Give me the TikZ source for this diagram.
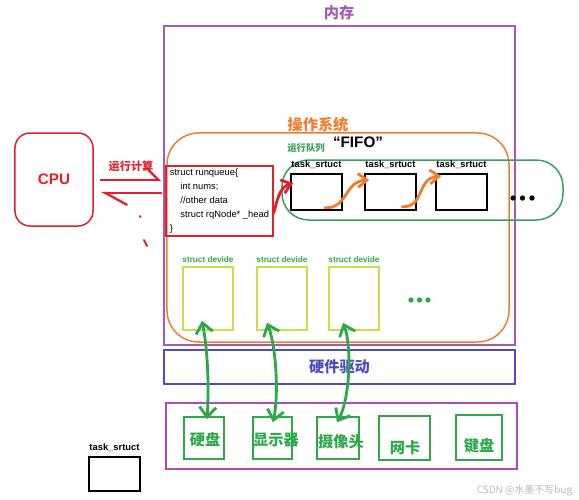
\documentclass[tikz,border=0pt]{standalone}
\usepackage{fontspec}
\setmainfont{Liberation Sans}
\newfontfamily\cjk{Noto Sans CJK SC}
\usetikzlibrary{arrows.meta, calc}

\definecolor{mempurple}{HTML}{A45BB5}
\definecolor{osorange}{HTML}{F07C30}
\definecolor{hwblue}{HTML}{4C4CC4}
\definecolor{devmagenta}{HTML}{B04AB8}
\definecolor{dgreen}{HTML}{2FA84A}
\definecolor{qgreen}{HTML}{3A9E5C}
\definecolor{ygreen}{HTML}{C4E04A}
\definecolor{myred}{HTML}{E0202C}

\begin{document}
\begin{tikzpicture}[x=0.03cm, y=-0.03cm,
    box/.style={draw, line width=0.045cm, inner sep=0pt},
    hand/.style={line width=0.085cm, line cap=round, line join=round},
    barb/.style={-{Straight Barb[length=0.27cm, width=0.42cm]}},
    bigcjk/.style={font=\cjk\bfseries\fontsize{13}{15}\selectfont},
    tasklabel/.style={font=\bfseries\fontsize{8}{9}\selectfont, label distance=0cm},
    devlabel/.style={text=dgreen, font=\bfseries\fontsize{7}{8}\selectfont, label distance=0cm}
    ]
    \useasboundingbox (0,0) rectangle (579,500);

    % memory, os, drivers, hardware
    \node (mem) at (339.5,185.5) [box, draw=mempurple, minimum width=10.53cm, minimum height=9.57cm] {};
    \node (memlabel) at (339,13) [text=mempurple, bigcjk] {内存};
    \node (os) at (338,237.5) [box, draw=osorange, rounded corners=0.95cm, minimum width=10.26cm, minimum height=6.27cm] {};
    \node (oslabel) at (318,125) [text=osorange, bigcjk] {操作系统};
    \node (hw) at (339.5,367) [box, draw=hwblue, minimum width=10.53cm, minimum height=1.02cm, text=hwblue, bigcjk] {硬件驱动};
    \node (dev) at (341.5,436) [box, draw=devmagenta, minimum width=10.53cm, minimum height=1.98cm] {};

    % cpu and runqueue
    \node (cpu) at (54,179.5) [box, draw=myred, rounded corners=0.45cm, minimum width=2.34cm, minimum height=2.79cm, text=myred, font=\bfseries\fontsize{13}{15}\selectfont] {CPU};
    \node (rq) at (219.5,201) [box, draw=myred, minimum width=3.21cm, minimum height=2.1cm, inner sep=1pt, align=left, font=\fontsize{8}{12}\selectfont]
        {struct runqueue\{\\ \hspace*{9pt}int nums;\\ \hspace*{9pt}//other data\\ \hspace*{9pt}struct rqNode* \_head\\ \}};
    \draw [myred, line width=0.07cm, line cap=round, -{Straight Barb[left, length=0.36cm, width=0.72cm]}] ($(cpu.east)+(7,0.5)$) -- ($(rq.west)+(-4,-21)$)
        node [midway, above=0.1cm, font=\cjk\bfseries\fontsize{9.5}{11}\selectfont] {运行计算};
    \draw [myred, line width=0.07cm, line cap=round, -{Straight Barb[left, length=0.66cm, width=0.72cm]}] ($(rq.west)+(-4,-8)$) -- ($(cpu.east)+(7,13.5)$);
    \draw [myred, line width=0.06cm, line cap=round] (140,216) -- (140.5,217);
    \draw [myred, line width=0.06cm, line cap=round] (144,240) -- (147,246);

    % run queue
    \node (runq) at (422.5,190) [box, draw=qgreen, rounded corners=0.8cm, minimum width=8.43cm, minimum height=1.8cm] {};
    \node (runqlabel) at (306,148) [text=qgreen, font=\cjk\bfseries\fontsize{8}{9}\selectfont] {运行队列};
    \node (fifo) at (358,142) [font=\bfseries\fontsize{13}{15}\selectfont] {“FIFO”};
    \node (t1) at (316.5,192) [box, minimum width=1.53cm, minimum height=1.08cm, label={[tasklabel]above:task\_srtuct}] {};
    \node (t2) at (390.5,192) [box, minimum width=1.53cm, minimum height=1.08cm, label={[tasklabel]above:task\_srtuct}] {};
    \node (t3) at (461.5,192) [box, minimum width=1.53cm, minimum height=1.08cm, label={[tasklabel]above:task\_srtuct}] {};
    \fill (513,198) circle [radius=0.08cm];
    \fill (522.5,198) circle [radius=0.08cm];
    \fill (532,198) circle [radius=0.08cm];
    \draw [myred, hand, barb] ($(rq.east)+(0,12)$) .. controls +(5,-20) and +(-12,4) .. ($(t1.west)+(3,-9)$);
    \draw [osorange, hand, barb] ($(t1.south)+(8.5,-3)$) .. controls +(23,1) and +(-25,1) .. ($(t2.west)+(5,-12)$);
    \draw [osorange, hand, barb] ($(t2.south)+(11.5,-4)$) .. controls +(23,1) and +(-25,2) .. ($(t3.west)+(6,-16)$);

    % devices in the os
    \node (sd1) at (208,298.5) [box, draw=ygreen, minimum width=1.5cm, minimum height=1.89cm, label={[devlabel]above:struct devide}] {};
    \node (sd2) at (282,298.5) [box, draw=ygreen, minimum width=1.5cm, minimum height=1.89cm, label={[devlabel]above:struct devide}] {};
    \node (sd3) at (354,298.5) [box, draw=ygreen, minimum width=1.5cm, minimum height=1.89cm, label={[devlabel]above:struct devide}] {};
    \fill [dgreen] (411,300) circle [radius=0.08cm];
    \fill [dgreen] (419.5,300) circle [radius=0.08cm];
    \fill [dgreen] (428,300) circle [radius=0.08cm];

    % hardware
    \node (hd) at (204,438) [box, draw=dgreen, minimum width=1.2cm, minimum height=1.26cm] {};
    \node (screen) at (272.5,438) [box, draw=dgreen, minimum width=1.17cm, minimum height=1.26cm] {};
    \node (cam) at (338,438) [box, draw=dgreen, minimum width=1.26cm, minimum height=1.26cm] {};
    \node (nic) at (404.5,438) [box, draw=dgreen, minimum width=1.53cm, minimum height=1.32cm] {};
    \node (kbd) at (479,437.5) [box, draw=dgreen, minimum width=1.38cm, minimum height=1.35cm] {};
    \node (hdtext) at (205,440) [text=dgreen, bigcjk] {硬盘};
    \node (screentext) at (276,440) [text=dgreen, bigcjk] {显示器};
    \node (camtext) at (341,442) [text=dgreen, bigcjk] {摄像头};
    \node (nictext) at (405,448) [text=dgreen, bigcjk] {网卡};
    \node (kbdtext) at (479,446) [text=dgreen, bigcjk] {键盘};
    \draw [dgreen, hand, {Straight Barb[length=0.3cm, width=0.5cm]}-{Straight Barb[length=0.3cm, width=0.5cm]}] ($(sd1.south)+(-6,-10)$) .. controls +(6,30) and +(2,-30) .. ($(hd.north)+(3,3)$);
    \draw [dgreen, hand, {Straight Barb[length=0.3cm, width=0.5cm]}-{Straight Barb[length=0.3cm, width=0.5cm]}] ($(sd2.south)+(-15,-8)$) .. controls +(9,23) and +(6,-28) .. ($(screen.north)+(0.5,6)$);
    \draw [dgreen, hand, {Straight Barb[length=0.3cm, width=0.5cm]}-{Straight Barb[length=0.3cm, width=0.5cm]}] ($(sd3.south)+(-11,-8)$) .. controls +(9,23) and +(13,-23) .. ($(cam.north)+(-1,6)$);

    % legend and mark
    \node (legend) at (114.5,474) [box, minimum width=1.53cm, minimum height=1.02cm, label={[tasklabel]above:task\_srtuct}] {};
    \node (mark) at (524.5,491) [text=gray!55, font=\cjk\fontsize{8.5}{9}\selectfont] {CSDN @水墨不写bug};
\end{tikzpicture}
\end{document}
